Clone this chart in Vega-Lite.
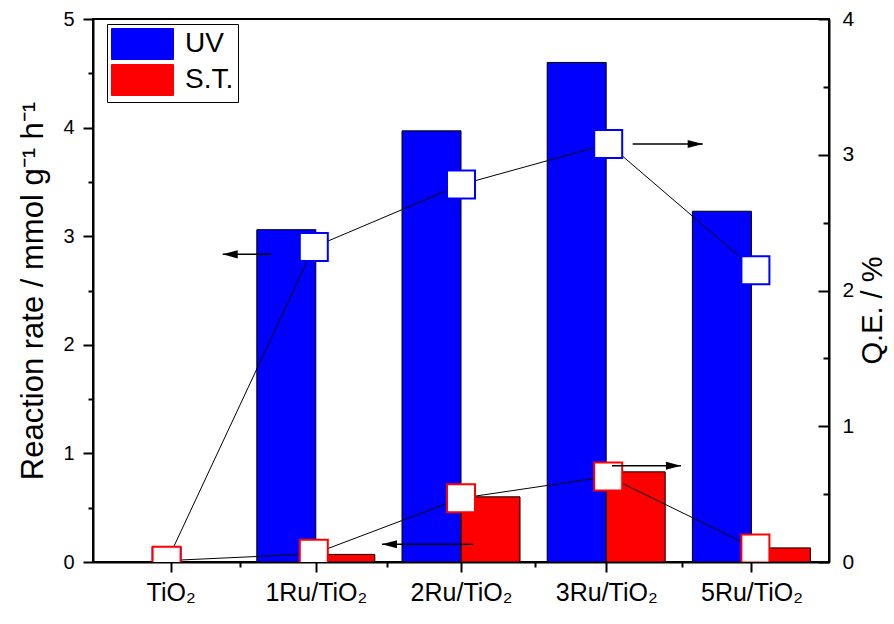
{
  "$schema": "https://vega.github.io/schema/vega-lite/v6.json",
  "width": 736,
  "height": 543,
  "autosize": {"type": "none"},
  "padding": {"left": 93, "top": 19, "right": 65, "bottom": 62},
  "config": {
    "view": {"stroke": "black", "strokeWidth": 2},
    "axis": {
      "grid": false,
      "domainColor": "black",
      "domainWidth": 2,
      "tickColor": "black",
      "tickWidth": 2,
      "labelColor": "black",
      "titleColor": "black",
      "labelFont": "Liberation Sans",
      "titleFont": "Liberation Sans",
      "titleFontWeight": "normal"
    }
  },
  "datasets": {
    "d": [
      {"sample": "TiO2", "idx": 1, "series": "UV", "rate": 0, "qe": 0.0},
      {"sample": "1Ru/TiO2", "idx": 2, "series": "UV", "rate": 3.06, "qe": 2.32},
      {"sample": "2Ru/TiO2", "idx": 3, "series": "UV", "rate": 3.97, "qe": 2.78},
      {"sample": "3Ru/TiO2", "idx": 4, "series": "UV", "rate": 4.6, "qe": 3.08},
      {"sample": "5Ru/TiO2", "idx": 5, "series": "UV", "rate": 3.23, "qe": 2.15},
      {"sample": "TiO2", "idx": 1, "series": "S.T.", "rate": 0, "qe": 0.01},
      {"sample": "1Ru/TiO2", "idx": 2, "series": "S.T.", "rate": 0.07, "qe": 0.06},
      {"sample": "2Ru/TiO2", "idx": 3, "series": "S.T.", "rate": 0.6, "qe": 0.47},
      {"sample": "3Ru/TiO2", "idx": 4, "series": "S.T.", "rate": 0.83, "qe": 0.63},
      {"sample": "5Ru/TiO2", "idx": 5, "series": "S.T.", "rate": 0.13, "qe": 0.1}
    ],
    "arrowsLeft": [
      {"tip": 1.381, "tail": 1.714, "y": 2.833},
      {"tip": 2.463, "tail": 3.082, "y": 0.163}
    ],
    "arrowsRight": [
      {"tail": 4.166, "tip": 4.642, "y": 3.079},
      {"tail": 4.026, "tip": 4.494, "y": 0.709}
    ]
  },
  "layer": [
    {
      "data": {"name": "d"},
      "transform": [{"filter": "datum.series === 'UV'"}],
      "mark": {"type": "bar", "width": 59, "xOffset": -29.5, "stroke": "black", "strokeWidth": 1},
      "encoding": {
        "x": {
          "field": "idx", "type": "quantitative",
          "scale": {"domain": [0.5, 5.5], "nice": false, "zero": false},
          "axis": {
            "orient": "bottom",
            "values": [1, 2, 3, 4, 5],
            "labelExpr": "['TiO₂','1Ru/TiO₂','2Ru/TiO₂','3Ru/TiO₂','5Ru/TiO₂'][datum.value - 1]",
            "tickSize": 10,
            "labelFontSize": 25,
            "labelPadding": 8,
            "labelFlush": false,
            "title": null
          }
        },
        "y": {
          "field": "rate", "type": "quantitative",
          "scale": {"domain": [0, 5], "nice": false},
          "axis": {
            "orient": "left",
            "values": [0, 1, 2, 3, 4, 5],
            "tickSize": 10,
            "labelFontSize": 20,
            "labelPadding": 9,
            "labelFlush": false,
            "title": "Reaction rate / mmol g⁻¹ h⁻¹",
            "titleFontSize": 31,
            "titlePadding": 13
          }
        },
        "fill": {
          "field": "series", "type": "nominal",
          "scale": {"domain": ["UV", "S.T."], "range": ["#0000ff", "#ff0000"]},
          "legend": {
            "orient": "none",
            "legendX": 14,
            "legendY": 5,
            "title": null,
            "symbolType": "M -1 -1 H 3 V 1 H -1 Z",
            "symbolSize": 961,
            "symbolStrokeColor": "black",
            "symbolStrokeWidth": 1,
            "labelOffset": 42,
            "labelFontSize": 28,
            "labelFont": "Liberation Sans",
            "labelColor": "black",
            "rowPadding": 0,
            "padding": 4,
            "strokeColor": "black",
            "fillColor": "white"
          }
        }
      }
    },
    {
      "data": {"name": "d"},
      "transform": [{"filter": "datum.series === 'S.T.'"}],
      "mark": {"type": "bar", "width": 59, "xOffset": 29.5, "stroke": "black", "strokeWidth": 1},
      "encoding": {
        "x": {"field": "idx", "type": "quantitative", "scale": {"domain": [0.5, 5.5], "nice": false, "zero": false}, "axis": null},
        "y": {"field": "rate", "type": "quantitative", "scale": {"domain": [0, 5], "nice": false}, "axis": null},
        "fill": {"field": "series", "type": "nominal", "scale": {"domain": ["UV", "S.T."], "range": ["#0000ff", "#ff0000"]}}
      }
    },
    {
      "data": {"name": "arrowsLeft"},
      "mark": {"type": "rule", "color": "black", "strokeWidth": 1.5},
      "encoding": {
        "x": {
          "field": "tip", "type": "quantitative",
          "scale": {"domain": [0.5, 5.5], "nice": false, "zero": false},
          "axis": {"orient": "bottom", "values": [1.5, 2.5, 3.5, 4.5], "tickSize": 5, "labels": false, "domain": false, "title": null}
        },
        "x2": {"field": "tail"},
        "y": {
          "field": "y", "type": "quantitative",
          "scale": {"domain": [0, 5], "nice": false},
          "axis": {"orient": "left", "values": [0.5, 1.5, 2.5, 3.5, 4.5], "tickSize": 5, "labels": false, "domain": false, "title": null}
        }
      }
    },
    {
      "data": {"name": "arrowsLeft"},
      "mark": {"type": "point", "shape": "M 0 0 L 1 -0.27 L 1 0.27 Z", "size": 900, "filled": true, "fill": "black", "opacity": 1, "strokeWidth": 0},
      "encoding": {
        "x": {"field": "tip", "type": "quantitative", "scale": {"domain": [0.5, 5.5], "nice": false, "zero": false}, "axis": null},
        "y": {"field": "y", "type": "quantitative", "scale": {"domain": [0, 5], "nice": false}, "axis": null}
      }
    },
    {
      "data": {"name": "d"},
      "mark": {"type": "line", "color": "black", "strokeWidth": 1},
      "encoding": {
        "x": {"field": "idx", "type": "quantitative", "scale": {"domain": [0.5, 5.5], "nice": false, "zero": false}, "axis": null},
        "y": {
          "field": "qe", "type": "quantitative",
          "scale": {"domain": [0, 4], "nice": false},
          "axis": {
            "orient": "right",
            "values": [0, 1, 2, 3, 4],
            "tickSize": -11,
            "labelFontSize": 21,
            "labelPadding": 24,
            "labelFlush": false,
            "title": "Q.E. / %",
            "titleFontSize": 29,
            "titleAngle": 270,
            "titleBaseline": "top",
            "titleY": 291,
            "titlePadding": 5
          }
        },
        "detail": {"field": "series"}
      }
    },
    {
      "data": {"name": "d"},
      "mark": {"type": "point", "shape": "square", "size": 784, "filled": true, "fill": "white", "strokeWidth": 2, "opacity": 1, "clip": true},
      "encoding": {
        "x": {"field": "idx", "type": "quantitative", "scale": {"domain": [0.5, 5.5], "nice": false, "zero": false}, "axis": null},
        "y": {"field": "qe", "type": "quantitative", "scale": {"domain": [0, 4], "nice": false}, "axis": null},
        "stroke": {"field": "series", "type": "nominal", "scale": {"domain": ["UV", "S.T."], "range": ["#0000ff", "#ff0000"]}, "legend": null}
      }
    },
    {
      "data": {"name": "arrowsRight"},
      "mark": {"type": "rule", "color": "black", "strokeWidth": 1.5},
      "encoding": {
        "x": {"field": "tail", "type": "quantitative", "scale": {"domain": [0.5, 5.5], "nice": false, "zero": false}, "axis": null},
        "x2": {"field": "tip"},
        "y": {
          "field": "y", "type": "quantitative",
          "scale": {"domain": [0, 4], "nice": false},
          "axis": {"orient": "right", "values": [0.5, 1.5, 2.5, 3.5], "tickSize": -6, "labels": false, "domain": false, "title": null}
        }
      }
    },
    {
      "data": {"name": "arrowsRight"},
      "mark": {"type": "point", "shape": "M 0 0 L -1 -0.27 L -1 0.27 Z", "size": 900, "filled": true, "fill": "black", "opacity": 1, "strokeWidth": 0},
      "encoding": {
        "x": {"field": "tip", "type": "quantitative", "scale": {"domain": [0.5, 5.5], "nice": false, "zero": false}, "axis": null},
        "y": {"field": "y", "type": "quantitative", "scale": {"domain": [0, 4], "nice": false}, "axis": null}
      }
    }
  ],
  "resolve": {"scale": {"x": "independent", "y": "independent"}}
}
